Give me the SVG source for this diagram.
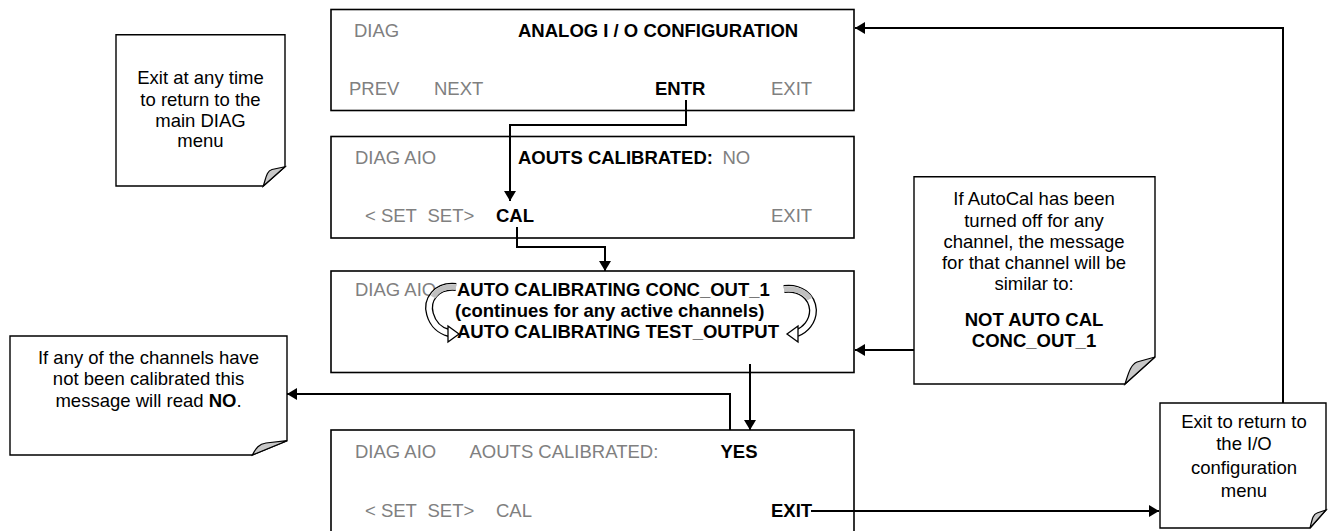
<svg xmlns="http://www.w3.org/2000/svg" width="1328" height="531" viewBox="0 0 1328 531">
<defs>
<style>
text{font-family:"Liberation Sans",Arial,sans-serif;font-size:18.5px;fill:#000}
.g{fill:#808080}
.b{font-weight:bold}
.m{text-anchor:middle}
.box{fill:#fff;stroke:#000;stroke-width:1.6}
.note{fill:#fff;stroke:#000;stroke-width:1.4}
.curl{fill:#c8c8c8;stroke:#000;stroke-width:1.2}
.con{fill:none;stroke:#000;stroke-width:2}
</style>
<marker id="ah" markerUnits="userSpaceOnUse" markerWidth="11" markerHeight="12" refX="10" refY="6" orient="auto">
<path d="M0,0 L10,6 L0,12 Z" fill="#000"/>
</marker>
</defs>
<rect width="1328" height="531" fill="#fff"/>

<g id="note-exit-any">
<path class="note" d="M116,34.7 H285 V166.7 L263.3,186 H116 Z"/>
<path class="curl" d="M263.3,186 C266,178 266.5,171 272,169.5 L285,166.7 Z"/>
<text class="m" x="200.5" y="84">Exit at any time</text>
<text class="m" x="200.5" y="105.5">to return to the</text>
<text class="m" x="200.5" y="126.5">main DIAG</text>
<text class="m" x="200.5" y="147">menu</text>
</g>

<g id="box-analog">
<rect class="box" x="331" y="9.5" width="523" height="101"/>
<text class="g" x="354" y="37">DIAG</text>
<text class="b" x="518" y="37">ANALOG I / O CONFIGURATION</text>
<text class="g" x="349" y="95">PREV</text>
<text class="g" x="434" y="95">NEXT</text>
<text class="b" x="655" y="95">ENTR</text>
<text class="g" x="771" y="95">EXIT</text>
</g>

<g id="box-aouts-no">
<rect class="box" x="331" y="136.5" width="523" height="101.5"/>
<text class="g" x="355" y="164">DIAG AIO</text>
<text class="b" x="518" y="164">AOUTS CALIBRATED:</text>
<text class="g" x="722.5" y="164">NO</text>
<text class="g" x="365" y="222">&lt; SET</text>
<text class="g" x="427.5" y="222">SET&gt;</text>
<text class="b" x="496" y="222">CAL</text>
<text class="g" x="771" y="222">EXIT</text>
</g>

<g id="box-autocal">
<rect class="box" x="331" y="271" width="523" height="101.5"/>
<text class="g" x="355" y="296">DIAG AIO</text>
<text class="b" x="457" y="296">AUTO CALIBRATING CONC_OUT_1</text>
<text class="b" x="455" y="317">(continues for any active channels)</text>
<text class="b" x="457" y="338">AUTO CALIBRATING TEST_OUTPUT</text>
<path d="M456,287 C436,285 426,300 430,314 C433,325 441,331 449,333" fill="none" stroke="#000" stroke-width="8"/>
<path d="M456,287 C436,285 426,300 430,314 C433,325 441,331 449,333" fill="none" stroke="#fff" stroke-width="5.4"/>
<path d="M456,287 C445,286 437,290 433,297" fill="none" stroke="#c0c0c0" stroke-width="5.4"/>
<polygon points="459,334 448,326 448,342" fill="#fff" stroke="#000" stroke-width="1.3"/>
<path d="M784,289 C800,287 812,296 813,310 C813,322 805,330 797,333" fill="none" stroke="#000" stroke-width="8"/>
<path d="M784,289 C800,287 812,296 813,310 C813,322 805,330 797,333" fill="none" stroke="#fff" stroke-width="5.4"/>
<path d="M784,289 C796,288 806,292 810,299" fill="none" stroke="#c0c0c0" stroke-width="5.4"/>
<polygon points="787,334 798,326 798,342" fill="#fff" stroke="#000" stroke-width="1.3"/>
</g>

<g id="box-aouts-yes">
<rect class="box" x="331" y="430" width="523" height="120"/>
<text class="g" x="355" y="458">DIAG AIO</text>
<text class="g" x="469.5" y="458">AOUTS CALIBRATED:</text>
<text class="b" x="720.5" y="458">YES</text>
<text class="g" x="365" y="517">&lt; SET</text>
<text class="g" x="427.5" y="517">SET&gt;</text>
<text class="g" x="496" y="517">CAL</text>
<text class="b" x="771" y="517">EXIT</text>
</g>

<g id="note-not-calibrated">
<path class="note" d="M10,336 H287 V440.7 L252.3,455 H10 Z"/>
<path class="curl" d="M252.3,455 C256,448 259,444 266,443 L287,440.7 Z"/>
<text class="m" x="148.5" y="364">If any of the channels have</text>
<text class="m" x="148.5" y="385">not been calibrated this</text>
<text class="m" x="148.5" y="406.5">message will read <tspan class="b">NO</tspan>.</text>
</g>

<g id="note-autocal-off">
<path class="note" d="M914,176.7 H1155 V357 L1125,384 H914 Z"/>
<path class="curl" d="M1125,384 C1128,375 1130,365 1137,362 L1155,357 Z"/>
<text class="m" x="1034" y="205">If AutoCal has been</text>
<text class="m" x="1034" y="226.5">turned off for any</text>
<text class="m" x="1034" y="247.5">channel, the message</text>
<text class="m" x="1034" y="268.5">for that channel will be</text>
<text class="m" x="1034" y="289.5">similar to:</text>
<text class="m b" x="1034" y="325.5">NOT AUTO CAL</text>
<text class="m b" x="1034" y="347">CONC_OUT_1</text>
</g>

<g id="note-exit-io">
<path class="note" d="M1160,403 H1326 V510 L1310,528 H1160 Z"/>
<path class="curl" d="M1310,528 C1312,520 1313,514 1317,513 L1326,510 Z"/>
<text class="m" x="1244" y="428">Exit to return to</text>
<text class="m" x="1244" y="450">the I/O</text>
<text class="m" x="1244" y="473.5">configuration</text>
<text class="m" x="1244" y="496.5">menu</text>
</g>

<g id="connectors">
<path class="con" d="M686,100 V125 H510 V201" marker-end="url(#ah)"/>
<path class="con" d="M517,227 V247 H605 V271" marker-end="url(#ah)"/>
<path class="con" d="M750,364 V430" marker-end="url(#ah)"/>
<path class="con" d="M730,430 V394 H287" marker-end="url(#ah)"/>
<path class="con" d="M914,350 H855" marker-end="url(#ah)"/>
<path class="con" d="M1283,403 V28 H855" marker-end="url(#ah)"/>
<path class="con" d="M811,511 H1159" marker-end="url(#ah)"/>
</g>
</svg>
